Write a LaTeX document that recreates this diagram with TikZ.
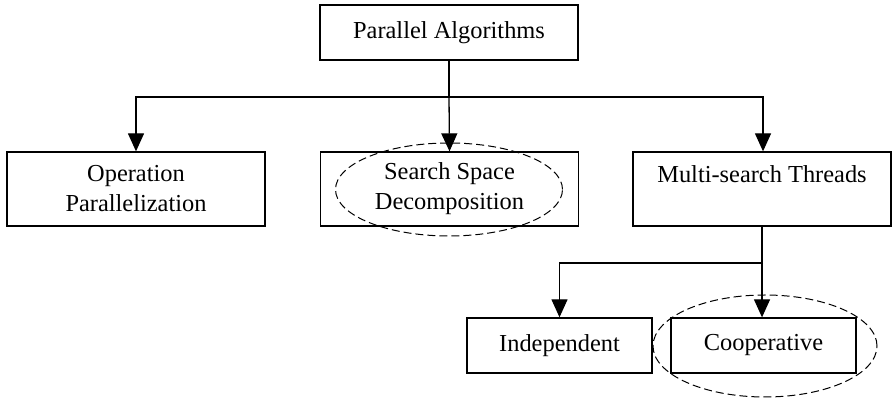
\documentclass[tikz,border=0pt]{standalone}
\usepackage{fontspec}
\setmainfont{Liberation Serif}
\usetikzlibrary{arrows.meta,shapes.geometric}

\tikzset{
  box/.style={draw, line width=0.65pt, inner sep=0pt, align=center,
    font=\fontsize{12.2}{15}\selectfont},
  wide/.style={box, minimum width=129pt},
  narrow/.style={box, minimum width=92.5pt},
  link/.style={line width=0.65pt},
  arr/.style={link, -{Triangle[length=9pt,width=8pt]}},
  ring/.style={draw, ellipse, dashed, dash pattern=on 4pt off 2pt,
    line width=0.5pt, inner sep=0pt},
}

\begin{document}
\begin{tikzpicture}[x=0.5pt, y=-0.5pt]
  \useasboundingbox (0,0) rectangle (892,399);

  % root
  \node[wide, minimum height=27.5pt] (root) at (449,32.5) {Parallel Algorithms};

  % first level
  \node[wide, minimum height=37pt] (op) at (136,189)
    {Operation\\Parallelization};
  \node[wide, minimum height=37pt] (ssd) at (449.5,189)
    {Search Space\\Decomposition};
  \node[wide, minimum height=37pt] (mst) at (762,189)
    {Multi-search Threads\\\mbox{}};

  % second level
  \node[narrow, minimum height=27.5pt] (ind) at (559.5,345.5) {Independent};
  \node[narrow, minimum height=27.5pt] (coop) at (763.5,345.5) {Cooperative};

  % highlighted branches
  \node[ring, minimum width=113.5pt, minimum height=46.5pt] (ssdring) at (449,189.5) {};
  \node[ring, minimum width=112pt, minimum height=51pt] (coopring) at (765,346) {};

  % connectors
  \coordinate (bus) at (449,97);
  \draw[link] (root.south) -- (bus);
  \draw[arr] (bus) -| (op.north);
  \draw[arr] (bus) -- (ssd.north);
  \draw[arr] (bus) -| ([xshift=0.5pt]mst.north);

  \coordinate (bus2) at (763,263);
  \draw[link] (mst.south) -- (mst.south |- bus2);
  \draw[arr] (bus2) -| (ind.north);
  \draw[arr] (mst.south |- bus2) -- (mst.south |- coop.north);
\end{tikzpicture}
\end{document}
